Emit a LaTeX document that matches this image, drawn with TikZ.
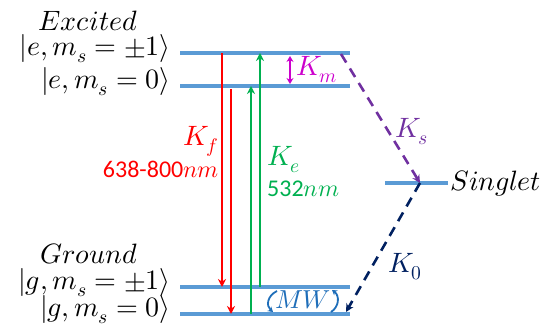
\documentclass[tikz,border=0pt]{standalone}
\usepackage{unicode-math}
\setmainfont{Carlito}
\setmathfont{Latin Modern Math}
\usetikzlibrary{arrows.meta,calc}
\definecolor{LevelClr}{RGB}{91,155,213}
\definecolor{EmitClr}{RGB}{255,0,0}
\definecolor{PumpClr}{RGB}{0,176,80}
\definecolor{MixClr}{RGB}{204,0,204}
\definecolor{IscClr}{RGB}{112,48,160}
\definecolor{RelaxClr}{RGB}{0,32,96}
\definecolor{MwClr}{RGB}{31,110,185}
\newcommand\bigtxt{\fontsize{28}{30}\selectfont}
\newcommand\numtxt{\fontsize{24}{26}\selectfont}

\begin{document}
\begin{tikzpicture}[x=1pt,y=-1pt,
  level/.style={LevelClr,line width=3.3pt},
  tipsty/.style={-{Stealth[length=8pt,width=8pt]}},
  emit/.style={tipsty,EmitClr,line width=2.5pt},
  pump/.style={tipsty,PumpClr,line width=2.5pt},
  hop/.style={tipsty,line width=2.6pt,dash pattern=on 10pt off 7pt},
  lbl/.style={inner sep=0pt,font=\bigtxt},
  ket/.style={lbl,anchor=mid east}]
\useasboundingbox (0,0) rectangle (550,336);

% energy levels
\coordinate (EpW) at (180,53);  \coordinate (EpE) at (350,53);
\coordinate (EzW) at (180,86);  \coordinate (EzE) at (350,86);
\coordinate (GpW) at (180,287); \coordinate (GpE) at (350,287);
\coordinate (GzW) at (180,314); \coordinate (GzE) at (350,314);
\coordinate (SW) at (385,183);  \coordinate (SE) at (448,183);
\coordinate (S) at (420,183);

\draw[level] (EpW) -- (EpE);
\draw[level] (EzW) -- (EzE);
\draw[level] (GpW) -- (GpE);
\draw[level] (GzW) -- (GzE);
\draw[level] (SW) -- (SE);

\node[lbl,anchor=base] (exc) at (88,31) {$Excited$};
\node[lbl,anchor=base] (gnd) at (89,264) {$Ground$};
\node[ket] (kEp) at (171,53) {$|e,m_s=\pm1\rangle$};
\node[ket] (kEz) at (171,86) {$|e,m_s=0\rangle$};
\node[ket] (kGp) at (171,287) {$|g,m_s=\pm1\rangle$};
\node[ket] (kGz) at (171,314) {$|g,m_s=0\rangle$};
\node[lbl,anchor=base west] (sng) at (450,191) {$Singlet$};

% emission and excitation
\coordinate (f1a) at (222,53);  \coordinate (f1b) at (222,287);
\coordinate (f2a) at (231,89);  \coordinate (f2b) at (231,314);
\coordinate (e1a) at (251,314); \coordinate (e1b) at (251,86);
\coordinate (e2a) at (260,287); \coordinate (e2b) at (260,53);
\draw[emit] (f1a) -- (f1b);
\draw[emit] (f2a) -- (f2b);
\draw[pump] (e1a) -- (e1b);
\draw[pump] (e2a) -- (e2b);

\node[lbl,anchor=base east,text=EmitClr] (kf) at (219,146) {$K_f$};
\node[lbl,anchor=base east,text=EmitClr] (wf) at (219,178) {\numtxt 638-800$nm$};
\node[lbl,anchor=base west,text=PumpClr] (ke) at (267,166) {$K_e$};
\node[lbl,anchor=base west,text=PumpClr] (we) at (267,197) {\numtxt 532$nm$};

% splitting
\coordinate (mA) at (290,56); \coordinate (mB) at (290,84);
\draw[MixClr,line width=1.8pt,{Stealth[length=6pt,width=7pt]}-{Stealth[length=6pt,width=7pt]}] (mA) -- (mB);
\node[lbl,anchor=base west,text=MixClr] (km) at (296,76) {$K_m$};

% intersystem crossing
\coordinate (isc0) at (341,54);
\draw[hop,IscClr] (isc0) -- (S);
\node[lbl,anchor=base west,text=IscClr] (ks) at (395,138) {$K_s$};
\draw[hop,RelaxClr] (S) -- ($(GzE)+(-4,-2)$);
\node[lbl,anchor=base west,text=RelaxClr] (k0) at (388,273) {$K_0$};

% microwave
\node[lbl,text=MwClr,font=\fontsize{26}{28}\selectfont,anchor=base] (mw) at (303,309) {$MW$};
\coordinate (mwL1) at (277,291); \coordinate (mwL2) at (273,312);
\coordinate (mwR1) at (331,312); \coordinate (mwR2) at (332,290);
\draw[MwClr,line width=1.8pt,-{Stealth[length=5pt,width=6pt]}] (mwL1) .. controls (267,296) and (266,306) .. (mwL2);
\draw[MwClr,line width=1.8pt,-{Stealth[length=5pt,width=6pt]}] (mwR1) .. controls (339,307) and (340,296) .. (mwR2);
\end{tikzpicture}
\end{document}
